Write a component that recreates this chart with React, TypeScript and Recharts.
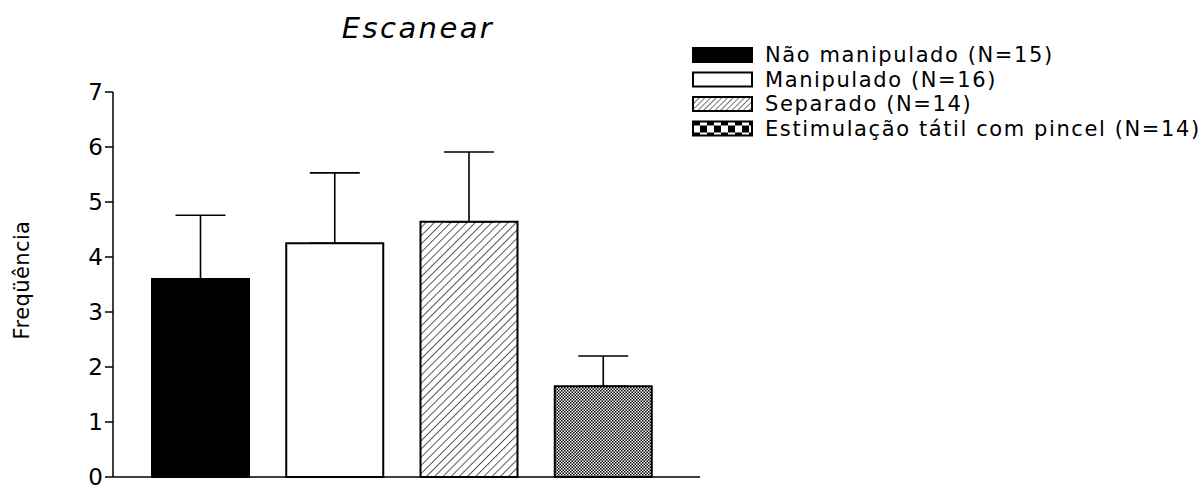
import React from "react";
import { BarChart, Bar, Cell, XAxis, YAxis, ErrorBar, Legend } from "recharts";

const groups = [
  "Não manipulado (N=15)",
  "Manipulado (N=16)",
  "Separado (N=14)",
  "Estimulação tátil com pincel (N=14)",
];
const means = [3.6, 4.25, 4.64, 1.65];
const sems = [1.16, 1.28, 1.27, 0.55];
const yTicks = [0, 1, 2, 3, 4, 5, 6, 7];

const fills = ["#000000", "#ffffff", "url(#hatch)", "url(#dots)"];
const swatchFills = ["#000000", "#ffffff", "url(#hatchSmall)", "url(#checker)"];

const data = groups.map((g, i) => ({ name: g, value: means[i], err: [0, sems[i]] }));

const font = "'DejaVu Sans', Verdana, sans-serif";

const YLabel = (props: any) => {
  const cy = 280;
  return (
    <text
      x={22}
      y={cy}
      transform={`rotate(-90, 22, ${cy})`}
      textAnchor="middle"
      dominantBaseline="central"
      fontSize={21}
      letterSpacing={0.4}
      fontFamily={font}
      fill="#000"
    >
      Freqüência
    </text>
  );
};

const LegendBox = () => (
  <svg width={512} height={110}>
    <defs>
      <pattern id="hatchSmall" width="4" height="4" patternUnits="userSpaceOnUse" patternTransform="rotate(45)">
        <rect width="4" height="4" fill="#fff" />
        <line x1="0" y1="0" x2="0" y2="4" stroke="#000" strokeWidth="1.1" />
      </pattern>
      <pattern id="checker" width="14" height="14" patternUnits="userSpaceOnUse" x="1" y="1">
        <rect width="14" height="14" fill="#fff" />
        <rect width="7" height="7" fill="#000" />
        <rect x="7" y="7" width="7" height="7" fill="#000" />
      </pattern>
    </defs>
    {groups.map((g, i) => (
      <g key={g} transform={`translate(0, ${i * 24.5})`}>
        <rect x={1} y={4} width={59} height={14} fill={swatchFills[i]} stroke="#000" strokeWidth={2} />
        <text x={73} y={11} dominantBaseline="central" fontSize={21} letterSpacing={1.6} fontFamily={font} fill="#000">
          {g}
        </text>
      </g>
    ))}
  </svg>
);

export default function App() {
  return (
    <div style={{ position: "absolute", left: 0, top: 0, width: 1204, height: 487, background: "#fff" }}>
      <div
        style={{
          position: "absolute",
          left: 218,
          width: 400,
          top: 11,
          textAlign: "center",
          fontFamily: font,
          fontStyle: "italic",
          fontSize: 29,
          letterSpacing: 2.4,
        }}
      >
        Escanear
      </div>
      <BarChart width={1204} height={487} data={data} margin={{ top: 92, right: 504, bottom: 0, left: 0 }}>
        <defs>
          <pattern id="hatch" width="5.8" height="5.8" patternUnits="userSpaceOnUse" patternTransform="rotate(45)">
            <rect width="5.8" height="5.8" fill="#fff" />
            <line x1="0" y1="0" x2="0" y2="5.8" stroke="#000" strokeWidth="1.3" />
          </pattern>
          <pattern id="dots" width="3" height="3" patternUnits="userSpaceOnUse">
            <rect width="3" height="3" fill="#fff" />
            <rect width="1.5" height="1.5" fill="#000" />
            <rect x="1.5" y="1.5" width="1.5" height="1.5" fill="#000" />
          </pattern>
        </defs>
        <XAxis
          dataKey="name"
          tick={false}
          tickLine={false}
          height={10}
          padding={{ left: 20, right: 30 }}
          stroke="#000"
          strokeWidth={1.5}
        />
        <YAxis
          domain={[0, 7]}
          ticks={yTicks}
          interval={0}
          width={113}
          tickSize={8}
          stroke="#000"
          strokeWidth={1.5}
          tick={{ fill: "#000", fontSize: 23, fontFamily: font }}
          label={<YLabel />}
        />
        <Legend
          layout="vertical"
          verticalAlign="middle"
          align="center"
          content={<LegendBox />}
          wrapperStyle={{ position: "absolute", left: 692, top: 44, width: 512 }}
        />
        <Bar dataKey="value" barSize={97} stroke="#000" strokeWidth={2} isAnimationActive={false}>
          {data.map((d, i) => (
            <Cell key={d.name} fill={fills[i]} />
          ))}
          <ErrorBar dataKey="err" width={25} stroke="#000" strokeWidth={1.6} direction="y" />
        </Bar>
      </BarChart>
    </div>
  );
}
